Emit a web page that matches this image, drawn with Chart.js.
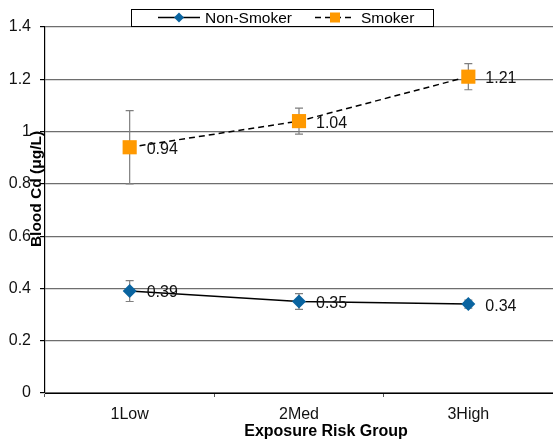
<!DOCTYPE html>
<html>
<head>
<meta charset="utf-8">
<script src="https://cdn.jsdelivr.net/npm/chart.js@4/dist/chart.umd.min.js"></script>
<style>
  html, body { margin: 0; padding: 0; background: #fff; }
  #wrap { width: 553px; height: 444px; position: relative; }
</style>
</head>
<body>
<div id="wrap"><canvas id="c" width="553" height="444"></canvas></div>
<script>
// Blood cadmium by exposure risk group, smokers vs non-smokers
const categories = ['1Low', '2Med', '3High'];
const nonSmoker = [0.39, 0.35, 0.34];
const nonSmokerErr = [0.04, 0.03, 0.015];
const smoker = [0.94, 1.04, 1.21];
const smokerErr = [0.14, 0.05, 0.05];
const yTicks = [0, 0.2, 0.4, 0.6, 0.8, 1, 1.2, 1.4];

const FONT = '"Liberation Sans", Arial, sans-serif';

// Error bars behind the markers
const errorBars = {
  id: 'errorBars',
  beforeDatasetsDraw(chart) {
    const ctx = chart.ctx;
    const y = chart.scales.y;
    ctx.save();
    ctx.strokeStyle = '#7f7f7f';
    ctx.lineWidth = 1.2;
    chart.data.datasets.forEach((ds, i) => {
      const meta = chart.getDatasetMeta(i);
      meta.data.forEach((pt, j) => {
        const v = ds.data[j], e = ds.errors[j];
        const top = y.getPixelForValue(v + e), bot = y.getPixelForValue(v - e);
        ctx.beginPath();
        ctx.moveTo(pt.x, top); ctx.lineTo(pt.x, bot);
        ctx.moveTo(pt.x - 4, top); ctx.lineTo(pt.x + 4, top);
        ctx.moveTo(pt.x - 4, bot); ctx.lineTo(pt.x + 4, bot);
        ctx.stroke();
      });
    });
    ctx.restore();
  }
};

// Value labels to the right of each point, plus axis titles and legend box
const decorations = {
  id: 'decorations',
  afterDatasetsDraw(chart) {
    const ctx = chart.ctx;
    ctx.save();
    ctx.fillStyle = '#111';
    ctx.font = '16px ' + FONT;
    ctx.textAlign = 'left';
    ctx.textBaseline = 'middle';
    chart.data.datasets.forEach((ds, i) => {
      chart.getDatasetMeta(i).data.forEach((pt, j) => {
        ctx.fillText(ds.data[j].toFixed(2), pt.x + 17, pt.y + 2);
      });
    });
    ctx.restore();
  },
  afterDraw(chart) {
    const ctx = chart.ctx;
    ctx.save();
    ctx.fillStyle = '#000';
    ctx.font = 'bold 16px ' + FONT;
    ctx.textAlign = 'center';
    ctx.textBaseline = 'middle';
    ctx.fillText('Exposure Risk Group', 326, 432);
    ctx.font = 'bold 15.5px ' + FONT;
    ctx.translate(37, 189);
    ctx.rotate(-Math.PI / 2);
    ctx.fillText('Blood Cd (\u03bcg/L)', 0, 0);
    ctx.restore();

    // legend
    ctx.save();
    ctx.fillStyle = '#fff';
    ctx.fillRect(131.5, 9.5, 302, 17);
    ctx.strokeStyle = '#000';
    ctx.lineWidth = 1;
    ctx.strokeRect(131.5, 9.5, 302, 17);
    const ly = 17.5;
    const items = [
      { ds: chart.data.datasets[0], x0: 158, x1: 200, tx: 205 },
      { ds: chart.data.datasets[1], x0: 315, x1: 355, tx: 361 }
    ];
    items.forEach(it => {
      ctx.strokeStyle = it.ds.borderColor;
      ctx.lineWidth = 1.3;
      ctx.setLineDash(it.ds.borderDash || []);
      ctx.beginPath(); ctx.moveTo(it.x0, ly); ctx.lineTo(it.x1, ly); ctx.stroke();
      ctx.setLineDash([]);
      const cx = (it.x0 + it.x1) / 2;
      ctx.fillStyle = it.ds.pointBackgroundColor;
      if (it.ds.pointStyle === 'rectRot') {
        const r = 5;
        ctx.beginPath();
        ctx.moveTo(cx, ly - r); ctx.lineTo(cx + r, ly); ctx.lineTo(cx, ly + r); ctx.lineTo(cx - r, ly);
        ctx.closePath(); ctx.fill();
      } else {
        ctx.fillRect(cx - 5, ly - 5, 10, 10);
      }
      ctx.fillStyle = '#000';
      ctx.font = '15.5px ' + FONT;
      ctx.textAlign = 'left';
      ctx.textBaseline = 'middle';
      ctx.fillText(it.ds.label, it.tx, ly + 1);
    });
    ctx.restore();
  }
};

new Chart(document.getElementById('c'), {
  type: 'line',
  data: {
    labels: categories,
    datasets: [
      {
        label: 'Non-Smoker',
        data: nonSmoker,
        errors: nonSmokerErr,
        borderColor: '#000',
        borderWidth: 1.5,
        pointStyle: 'rectRot',
        pointRadius: 7,
        pointBackgroundColor: '#0a64a0',
        pointBorderColor: '#0a64a0',
        pointBorderWidth: 0,
        tension: 0
      },
      {
        label: 'Smoker',
        data: smoker,
        errors: smokerErr,
        borderColor: '#000',
        borderWidth: 1.5,
        borderDash: [6, 4],
        pointStyle: 'rect',
        pointRadius: 10,
        pointBackgroundColor: '#ff9900',
        pointBorderColor: '#ff9900',
        pointBorderWidth: 0,
        tension: 0
      }
    ]
  },
  options: {
    responsive: false,
    animation: false,
    events: [],
    layout: { autoPadding: false, padding: { top: 27, right: 0, left: 0, bottom: 0 } },
    plugins: { legend: { display: false }, tooltip: { enabled: false } },
    scales: {
      x: {
        offset: true,
        afterFit(s) { s.height = 51; s.paddingLeft = 0; s.paddingRight = 0; },
        grid: { offset: true, drawOnChartArea: false, color: '#000', tickLength: 4, tickColor: '#555' },
        border: { color: '#000', width: 1 },
        ticks: { color: '#111', font: { family: FONT, size: 16 }, padding: 8 }
      },
      y: {
        min: 0, max: 1.4,
        afterFit(s) { s.width = 45; s.paddingTop = 0; s.paddingBottom = 0; },
        afterBuildTicks(s) { s.ticks = yTicks.map(v => ({ value: v })); },
        grid: { color: '#6e6e6e', lineWidth: 1.2, tickLength: 5, tickColor: '#000' },
        border: { color: '#000', width: 1.2 },
        ticks: {
          color: '#111', font: { family: FONT, size: 16 }, padding: 9,
          callback: v => String(v)
        }
      }
    }
  },
  plugins: [errorBars, decorations]
});
</script>
</body>
</html>
